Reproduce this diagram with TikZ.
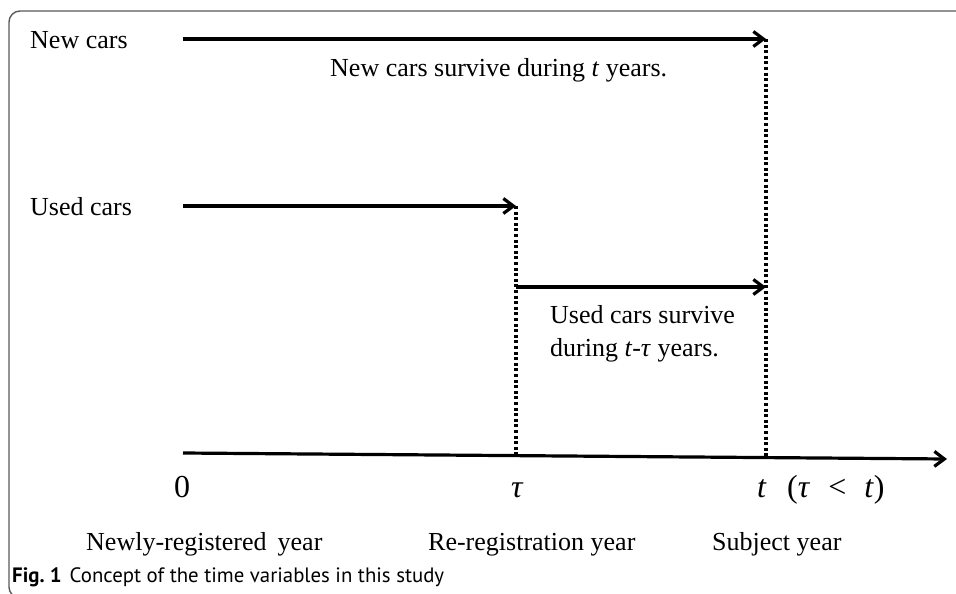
\documentclass[tikz,border=0pt]{standalone}
\usepackage{fontspec}
\setmainfont{Liberation Serif}
\newfontfamily\capfont{PT Sans}
\usetikzlibrary{arrows.meta}
\begin{document}
\begin{tikzpicture}[x=1pt,y=-1pt,
  lbl/.style={inner sep=0pt,anchor=base west,font=\fontsize{26}{30}\selectfont},
  big/.style={inner sep=0pt,anchor=base west,font=\fontsize{32}{36}\selectfont},
  arr/.style={line width=3.2pt,-{Straight Barb[length=10pt,width=15pt,line width=3.2pt]}},
  dots/.style={line width=3.2pt,dash pattern=on 3pt off 2.6pt},
  frame/.style={draw=black!65,line width=1.4pt,rounded corners=11pt}]
\useasboundingbox (0,0) rectangle (956,594);
\draw[frame] (970,11) -- (9,11) -- (9,598) -- (40,598);
% coordinates
\coordinate (n0) at (183,39);
\coordinate (n1) at (766,39);
\coordinate (u0) at (183,206);
\coordinate (u1) at (516,206);
\coordinate (v0) at (516,287);
\coordinate (v1) at (766,287);
\coordinate (a0) at (183,453);
\coordinate (a1) at (947,459);
\coordinate (at) at (516,456);
\coordinate (att) at (766,457);
% arrows
\draw[arr] (n0) -- (n1);
\draw[arr] (u0) -- (u1);
\draw[arr] (v0) -- (v1);
\draw[arr] (a0) -- (a1);
\draw[dots] (n1) -- (att);
\draw[dots] (u1) -- (at);
% labels
\node[lbl] (newcars) at (30,49) {New cars};
\node[lbl] (usedcars) at (30,215) {Used cars};
\node[lbl] (newsurv) at (330,77) {New cars survive during \textit{t} years.};
\node[lbl] (usedsurv1) at (550,323) {Used cars survive};
\node[lbl] (usedsurv2) at (550,356) {during \textit{t}-\textit{τ} years.};
\node[big] (zero) at (174,497) {0};
\node[big] (tau) at (511,497) {\textit{τ}};
\node[big] (tt) at (757,497) {\textit{t}};
\node[big] (cond) at (787,497) {(\textit{τ}\hspace{18pt}<\hspace{18pt}\textit{t})};
\node[lbl] (y0) at (86,550) {Newly-registered\hspace{11pt}year};
\node[lbl] (y1) at (428,550) {Re-registration year};
\node[lbl] (y2) at (712,550) {Subject year};
\node[inner sep=0pt,anchor=base west,font=\capfont\fontsize{20.8}{24}\selectfont] (cap) at (12,582) {\textbf{Fig.~1}\hspace{8pt}Concept of the time variables in this study};
\end{tikzpicture}
\end{document}
